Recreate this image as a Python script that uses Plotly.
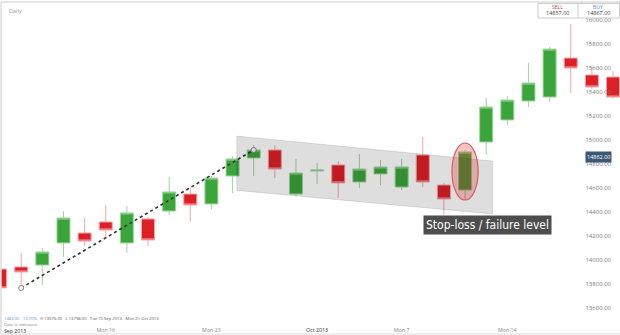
import plotly.graph_objects as go

# ---------------- data ----------------
dates = ["2013-09-09", "2013-09-10", "2013-09-11", "2013-09-12", "2013-09-13",
         "2013-09-16", "2013-09-17", "2013-09-18", "2013-09-19", "2013-09-20",
         "2013-09-23", "2013-09-24", "2013-09-25", "2013-09-26", "2013-09-27",
         "2013-10-01", "2013-10-02", "2013-10-03", "2013-10-04",
         "2013-10-07", "2013-10-08", "2013-10-09", "2013-10-10", "2013-10-11",
         "2013-10-14", "2013-10-15", "2013-10-16", "2013-10-17", "2013-10-18",
         "2013-10-21"]
opens = [13925, 13942, 13958, 14142, 14225, 14317, 14142, 14342, 14408, 14550,
         14467, 14700, 14850, 14917, 14550, 14742, 14792, 14650, 14717, 14608,
         14875, 14625, 14583, 14983, 15167, 15325, 15358, 15683, 15542, 15525]
highs = [13935, 14058, 14100, 14408, 14350, 14458, 14450, 14358, 14692, 14600,
         14700, 14867, 14958, 14958, 14842, 14808, 14825, 14883, 14833, 14842,
         15025, 14642, 14917, 15350, 15367, 15642, 15775, 15967, 15608, 15575]
lows = [13755, 13767, 13792, 14025, 14117, 14183, 14058, 14117, 14375, 14317,
        14425, 14558, 14700, 14683, 14533, 14633, 14517, 14600, 14625, 14583,
        14608, 14375, 14500, 14875, 15125, 15275, 15317, 15392, 15425, 15342]
closes = [13767, 13900, 14067, 14350, 14158, 14250, 14392, 14167, 14567, 14458,
          14683, 14842, 14917, 14758, 14725, 14750, 14642, 14758, 14775, 14775,
          14650, 14508, 14900, 15275, 15333, 15475, 15758, 15600, 15442, 15358]

tick_dates = ["2013-09-16", "2013-09-23", "2013-10-01", "2013-10-07", "2013-10-14", "2013-10-21"]
tick_labels = ["Mon 16", "Mon 23", "<span style='color:#333'>Oct 2013</span>", "Mon 7", "Mon 14", "Mon 21"]
y_ticks = [13600, 13800, 14000, 14200, 14400, 14600, 14800, 15000, 15200, 15400, 15600, 15800, 16000]

# descending channel (grey band)
band_x = [11.2, 23.3]
band_top = [15033, 14825]
band_bottom = [14580, 14383]

# ellipse around the breakout candle
ell_x = [21.38, 22.62]
ell_y = [14500, 14975]

last_price = 14862
sell_price = "14857.00"
buy_price = "14867.00"

# ---------------- figure ----------------
x = list(range(len(dates)))

fig = go.Figure()
fig.add_trace(go.Candlestick(
    x=x, open=opens, high=highs, low=lows, close=closes,
    increasing=dict(fillcolor="#3aa53a", line=dict(color="#9fd69f", width=1)),
    decreasing=dict(fillcolor="#de1f26", line=dict(color="#f3a7aa", width=1)),
    whiskerwidth=0, showlegend=False, hoverinfo="skip"))

# trend line from the low of candle 2 to the close of candle 13
fig.add_trace(go.Scatter(
    x=[x[1], x[12]], y=[lows[1], closes[12]], mode="lines+markers",
    line=dict(color="#333333", width=1.6, dash="dot"),
    marker=dict(size=5, color="white", line=dict(color="#888", width=1)),
    showlegend=False, hoverinfo="skip"))

W, H = 620, 335
ML, MR, MT, MB = 1, 0, 2, 11


def px(xp):
    return (xp - ML) / (W - ML - MR)


def py(yp):
    return (H - MB - yp) / (H - MT - MB)


shapes = [
    dict(type="path", xref="x", yref="y", layer="above",
         path=f"M {band_x[0]},{band_top[0]} L {band_x[1]},{band_top[1]} "
              f"L {band_x[1]},{band_bottom[1]} L {band_x[0]},{band_bottom[0]} Z",
         fillcolor="rgba(0,0,0,0.13)", line=dict(color="rgba(0,0,0,0.18)", width=0.6)),
    dict(type="circle", xref="x", yref="y", layer="above",
         x0=ell_x[0], x1=ell_x[1], y0=ell_y[0], y1=ell_y[1],
         fillcolor="rgba(215,40,40,0.28)", line=dict(color="#e05a5a", width=1.2)),
    # frame lines
    dict(type="line", xref="paper", yref="paper", x0=0, x1=1, y0=1, y1=1,
         line=dict(color="#dddddd", width=1.5)),
    dict(type="line", xref="paper", yref="paper", x0=0, x1=0, y0=py(334), y1=1,
         line=dict(color="#dddddd", width=1.5)),
    dict(type="line", xref="paper", yref="paper", x0=0, x1=1, y0=py(334), y1=py(334),
         line=dict(color="#dddddd", width=1)),
    # sell / buy box
    dict(type="rect", xref="paper", yref="paper", x0=px(538), x1=px(619.5),
         y0=py(18), y1=py(3.5), fillcolor="white", line=dict(color="#cccccc", width=1)),
    dict(type="line", xref="paper", yref="paper", x0=px(578), x1=px(578),
         y0=py(18), y1=py(3.5), line=dict(color="#cccccc", width=1)),
]

small = dict(family="Open Sans, Arial, sans-serif")


def note(text, xp, yp, size, color, xanchor="center"):
    return dict(text=text, xref="paper", yref="paper", x=px(xp), y=py(yp),
                xanchor=xanchor, yanchor="middle", showarrow=False, borderpad=0,
                font=dict(size=size, color=color, **small))


annotations = [
    note("Daily", 8, 11, 5.5, "#999999", "left"),
    note("SELL", 557, 7, 5, "#d9363e"),
    note(sell_price, 557, 13.5, 5.5, "#444444"),
    note("BUY", 598, 7, 5, "#5a8ad0"),
    note(buy_price, 598, 13.5, 5.5, "#444444"),
    note("Sep 2013", 3, 331.3, 5.2, "#333333", "left"),
    note("<span style='color:#5b8fd6'>1483.00</span>   "
         "<span style='color:#5b8fd6'>10.70%</span>   "
         "H 13976.00   L 13798.00   Tue 10 Sep 2013 - Mon 21 Oct 2013",
         3, 318.5, 4.2, "#555555", "left"),
    note("Data is indicative", 3, 324.3, 4.2, "#888888", "left"),
    dict(text="Stop-loss / failure level", xref="x", yref="y", x=23.04, y=14292,
         xanchor="center", yanchor="middle",
         showarrow=False, bgcolor="#4d4d4d", borderpad=2,
         font=dict(size=12, color="white",
                   family="Liberation Sans Narrow, DejaVu Sans Condensed, sans-serif")),
    dict(text=f"{last_price:.2f}", xref="paper", yref="y", x=px(612), y=last_price,
         xanchor="right", yanchor="middle", showarrow=False, bgcolor="#3c5778",
         borderpad=1, font=dict(size=5.5, color="white", **small)),
]

fig.update_layout(
    width=W, height=H,
    margin=dict(l=ML, r=MR, t=MT, b=MB),
    paper_bgcolor="white", plot_bgcolor="white",
    showlegend=False, boxgap=0.12,
    shapes=shapes, annotations=annotations,
    xaxis=dict(
        range=[0.044, 29.331], rangeslider=dict(visible=False),
        tickmode="array", tickvals=[dates.index(d) for d in tick_dates], ticktext=tick_labels,
        ticks="", ticklen=0, ticklabelstandoff=2, showgrid=False, zeroline=False, showline=False,
        tickfont=dict(size=5.3, color="#8a8a8a", **small)),
    yaxis=dict(
        side="right", range=[13466.67, 16150],
        tickmode="array", tickvals=y_ticks, tickformat=".2f",
        ticklabelposition="inside", ticks="", ticklabelstandoff=6,
        showgrid=False, zeroline=False, showline=False,
        tickfont=dict(size=6, color="#7a7a7a", **small)),
)

fig.write_html("out.html")
